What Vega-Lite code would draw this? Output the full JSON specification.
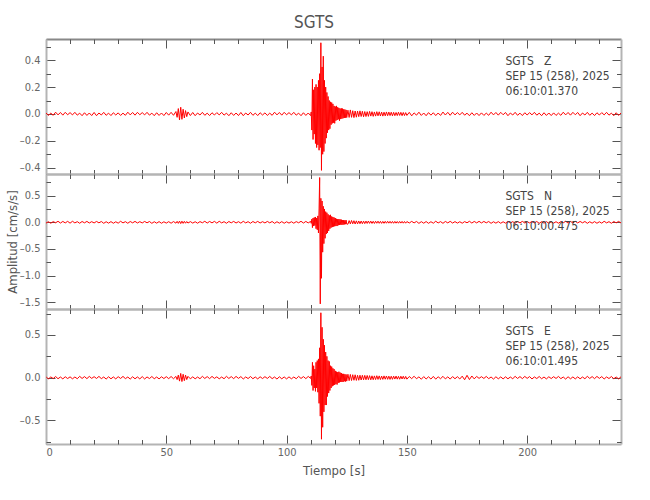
{
"$schema": "https://vega.github.io/schema/vega-lite/v6.json",
"background": "white",
"padding": {"left": 6, "top": 13, "right": 5, "bottom": 5},
"title": {"text": "SGTS", "fontSize": 17, "font": "Liberation Sans Narrow, DejaVu Sans Condensed, Liberation Sans", "fontWeight": "normal", "color": "#555555", "anchor": "middle", "offset": 7},
"datasets": {
"w": [
{"t":0,"z":0.008,"n":-0.015,"e":0.013},{"t":1,"z":-0.011,"n":0.011,"e":-0.015},{"t":2,"z":0.006,"n":-0.017,"e":0.009},{"t":3,"z":-0.010,"n":0.013,"e":-0.010},{"t":4,"z":0.013,"n":-0.009,"e":0.014},{"t":5,"z":-0.007,"n":0.019,"e":-0.012},{"t":6,"z":0.011,"n":-0.014,"e":0.008},{"t":7,"z":-0.009,"n":0.016,"e":-0.014},{"t":8,"z":0.012,"n":-0.011,"e":0.011},{"t":9,"z":-0.006,"n":0.018,"e":-0.010},
{"t":10,"z":0.010,"n":-0.016,"e":0.010},{"t":11,"z":-0.007,"n":0.019,"e":-0.013},{"t":12,"z":0.012,"n":-0.011,"e":0.008},{"t":13,"z":-0.009,"n":0.012,"e":-0.012},{"t":14,"z":0.006,"n":-0.018,"e":0.016},{"t":15,"z":-0.013,"n":0.015,"e":-0.009},{"t":16,"z":0.009,"n":-0.010,"e":0.013},{"t":17,"z":-0.011,"n":0.017,"e":-0.011},{"t":18,"z":0.007,"n":-0.013,"e":0.015},{"t":19,"z":-0.012,"n":0.012,"e":-0.008},
{"t":20,"z":0.011,"n":-0.012,"e":0.012},{"t":21,"z":-0.013,"n":0.016,"e":-0.009},{"t":22,"z":0.007,"n":-0.010,"e":0.015},{"t":23,"z":-0.008,"n":0.015,"e":-0.011},{"t":24,"z":0.012,"n":-0.019,"e":0.008},{"t":25,"z":-0.010,"n":0.011,"e":-0.016},{"t":26,"z":0.006,"n":-0.016,"e":0.011},{"t":27,"z":-0.012,"n":0.013,"e":-0.013},{"t":28,"z":0.009,"n":-0.018,"e":0.009},{"t":29,"z":-0.008,"n":0.010,"e":-0.014},
{"t":30,"z":0.008,"n":-0.016,"e":0.012},{"t":31,"z":-0.011,"n":0.019,"e":-0.009},{"t":32,"z":0.006,"n":-0.011,"e":0.015},{"t":33,"z":-0.010,"n":0.012,"e":-0.011},{"t":34,"z":0.013,"n":-0.018,"e":0.008},{"t":35,"z":-0.007,"n":0.015,"e":-0.016},{"t":36,"z":0.011,"n":-0.010,"e":0.011},{"t":37,"z":-0.009,"n":0.017,"e":-0.013},{"t":38,"z":0.012,"n":-0.013,"e":0.009},{"t":39,"z":-0.006,"n":0.012,"e":-0.014},
{"t":40,"z":0.010,"n":-0.012,"e":0.013},{"t":41,"z":-0.007,"n":0.016,"e":-0.015},{"t":42,"z":0.012,"n":-0.010,"e":0.009},{"t":43,"z":-0.009,"n":0.015,"e":-0.010},{"t":44,"z":0.006,"n":-0.019,"e":0.014},{"t":45,"z":-0.013,"n":0.011,"e":-0.012},{"t":46,"z":0.009,"n":-0.016,"e":0.008},{"t":47,"z":-0.011,"n":0.013,"e":-0.014},{"t":48,"z":0.007,"n":-0.018,"e":0.011},{"t":49,"z":-0.012,"n":0.010,"e":-0.010},
{"t":50,"z":0.011,"n":-0.015,"e":0.012},{"t":51,"z":-0.009,"n":0.012,"e":-0.011},{"t":52,"z":0.012,"n":-0.017,"e":0.014},{"t":53,"z":-0.010,"n":0.014,"e":-0.012},
{"t":54,"z":0.018,"n":-0.016,"e":0.015},{"t":54.5,"z":-0.025,"n":0.018,"e":-0.022},{"t":55,"z":0.040,"n":-0.020,"e":0.030},{"t":55.5,"z":-0.045,"n":0.022,"e":-0.040},{"t":56,"z":0.050,"n":-0.024,"e":0.050},{"t":56.5,"z":-0.040,"n":0.021,"e":-0.045},{"t":57,"z":0.035,"n":-0.020,"e":0.040},{"t":57.5,"z":-0.030,"n":0.018,"e":-0.035},{"t":58,"z":0.025,"n":-0.017,"e":0.030},{"t":58.5,"z":-0.020,"n":0.015,"e":-0.022},{"t":59,"z":0.015,"n":-0.014,"e":0.016},
{"t":60,"z":-0.012,"n":0.013,"e":-0.013},
{"t":61,"z":0.011,"n":-0.015,"e":0.010},{"t":62,"z":-0.013,"n":0.011,"e":-0.013},{"t":63,"z":0.007,"n":-0.017,"e":0.008},{"t":64,"z":-0.008,"n":0.013,"e":-0.012},{"t":65,"z":0.012,"n":-0.009,"e":0.016},{"t":66,"z":-0.010,"n":0.019,"e":-0.009},{"t":67,"z":0.006,"n":-0.014,"e":0.013},{"t":68,"z":-0.012,"n":0.016,"e":-0.011},{"t":69,"z":0.009,"n":-0.011,"e":0.015},{"t":70,"z":-0.008,"n":0.018,"e":-0.008},
{"t":71,"z":0.010,"n":-0.016,"e":0.010},{"t":72,"z":-0.007,"n":0.019,"e":-0.013},{"t":73,"z":0.012,"n":-0.011,"e":0.008},{"t":74,"z":-0.009,"n":0.012,"e":-0.012},{"t":75,"z":0.006,"n":-0.018,"e":0.016},{"t":76,"z":-0.013,"n":0.015,"e":-0.009},{"t":77,"z":0.009,"n":-0.010,"e":0.013},{"t":78,"z":-0.011,"n":0.017,"e":-0.011},{"t":79,"z":0.007,"n":-0.013,"e":0.015},{"t":80,"z":-0.012,"n":0.012,"e":-0.008},
{"t":81,"z":0.011,"n":-0.016,"e":0.013},{"t":82,"z":-0.013,"n":0.019,"e":-0.015},{"t":83,"z":0.007,"n":-0.011,"e":0.009},{"t":84,"z":-0.008,"n":0.012,"e":-0.010},{"t":85,"z":0.012,"n":-0.018,"e":0.014},{"t":86,"z":-0.010,"n":0.015,"e":-0.012},{"t":87,"z":0.006,"n":-0.010,"e":0.008},{"t":88,"z":-0.012,"n":0.017,"e":-0.014},{"t":89,"z":0.009,"n":-0.013,"e":0.011},{"t":90,"z":-0.008,"n":0.012,"e":-0.010},
{"t":91,"z":0.008,"n":-0.012,"e":0.012},{"t":92,"z":-0.011,"n":0.016,"e":-0.009},{"t":93,"z":0.006,"n":-0.010,"e":0.015},{"t":94,"z":-0.010,"n":0.015,"e":-0.011},{"t":95,"z":0.013,"n":-0.019,"e":0.008},{"t":96,"z":-0.007,"n":0.011,"e":-0.016},{"t":97,"z":0.011,"n":-0.016,"e":0.011},{"t":98,"z":-0.009,"n":0.013,"e":-0.013},{"t":99,"z":0.012,"n":-0.018,"e":0.009},{"t":100,"z":-0.006,"n":0.010,"e":-0.014},
{"t":101,"z":0.010,"n":-0.015,"e":0.010},{"t":102,"z":-0.007,"n":0.011,"e":-0.013},{"t":103,"z":0.012,"n":-0.017,"e":0.008},{"t":104,"z":-0.009,"n":0.013,"e":-0.012},{"t":105,"z":0.006,"n":-0.009,"e":0.016},{"t":106,"z":-0.013,"n":0.019,"e":-0.009},{"t":107,"z":0.009,"n":-0.014,"e":0.013},{"t":108,"z":-0.011,"n":0.016,"e":-0.011},{"t":109,"z":0.007,"n":-0.011,"e":0.015},{"t":110,"z":-0.012,"n":0.018,"e":-0.008},
{"t":110.25,"z":0.015,"n":-0.02,"e":0.02},{"t":110.5,"z":-0.12,"n":0.06,"e":-0.09},{"t":110.75,"z":0.26,"n":-0.1,"e":0.18},{"t":111,"z":-0.19,"n":0.08,"e":-0.15},{"t":111.25,"z":0.18,"n":-0.07,"e":0.14},{"t":111.5,"z":-0.15,"n":0.09,"e":-0.12},{"t":111.75,"z":0.2,"n":-0.06,"e":0.1},{"t":112,"z":-0.22,"n":0.1,"e":-0.16},{"t":112.25,"z":0.22,"n":-0.12,"e":0.18},{"t":112.5,"z":-0.25,"n":0.08,"e":-0.12},{"t":112.75,"z":0.2,"n":-0.14,"e":0.2},{"t":113,"z":-0.23,"n":0.12,"e":-0.17},{"t":113.25,"z":0.25,"n":-0.2,"e":0.22},{"t":113.5,"z":-0.27,"n":0.25,"e":-0.3},
{"t":113.75,"z":0.3,"n":0.84,"e":0.35},{"t":114,"z":-0.25,"n":-1.53,"e":-0.45},{"t":114.25,"z":0.53,"n":0.45,"e":0.76},{"t":114.5,"z":-0.42,"n":-1.05,"e":-0.72},{"t":114.75,"z":0.35,"n":0.4,"e":0.59},{"t":115,"z":-0.3,"n":-0.56,"e":-0.58},{"t":115.25,"z":0.43,"n":0.3,"e":0.45},{"t":115.5,"z":-0.28,"n":-0.4,"e":-0.4},{"t":115.75,"z":0.25,"n":0.25,"e":0.38},{"t":116,"z":-0.22,"n":-0.3,"e":-0.32},
{"t":116.25,"z":0.2,"n":0.2,"e":0.3},{"t":116.5,"z":-0.18,"n":-0.22,"e":-0.32},{"t":116.75,"z":0.16,"n":0.18,"e":0.25},{"t":117,"z":-0.14,"n":-0.2,"e":-0.22},{"t":117.25,"z":0.13,"n":0.15,"e":0.2},{"t":117.5,"z":-0.12,"n":-0.16,"e":-0.18},{"t":117.75,"z":0.1,"n":0.13,"e":0.19},{"t":118,"z":-0.11,"n":-0.12,"e":-0.15},{"t":118.25,"z":0.09,"n":0.14,"e":0.14},{"t":118.5,"z":-0.08,"n":-0.1,"e":-0.12},{"t":118.75,"z":0.085,"n":0.11,"e":0.13},{"t":119,"z":-0.07,"n":-0.09,"e":-0.1},{"t":119.25,"z":0.075,"n":0.1,"e":0.11},{"t":119.5,"z":-0.065,"n":-0.08,"e":-0.09},{"t":119.75,"z":0.06,"n":0.09,"e":0.1},{"t":120,"z":-0.07,"n":-0.075,"e":-0.085},
{"t":120.25,"z":0.055,"n":0.08,"e":0.08},{"t":120.5,"z":-0.05,"n":-0.07,"e":-0.075},{"t":120.75,"z":0.06,"n":0.065,"e":0.07},{"t":121,"z":-0.045,"n":-0.07,"e":-0.08},{"t":121.25,"z":0.05,"n":0.06,"e":0.065},{"t":121.5,"z":-0.04,"n":-0.055,"e":-0.06},{"t":121.75,"z":0.045,"n":0.06,"e":0.07},{"t":122,"z":-0.05,"n":-0.05,"e":-0.055},{"t":122.25,"z":0.04,"n":0.055,"e":0.06},{"t":122.5,"z":-0.038,"n":-0.045,"e":-0.05},{"t":122.75,"z":0.042,"n":0.05,"e":0.055},{"t":123,"z":-0.035,"n":-0.048,"e":-0.05},{"t":123.25,"z":0.04,"n":0.04,"e":0.045},{"t":123.5,"z":-0.032,"n":-0.045,"e":-0.05},{"t":123.75,"z":0.035,"n":0.042,"e":0.045},{"t":124,"z":-0.03,"n":-0.04,"e":-0.042},{"t":124.25,"z":0.033,"n":0.038,"e":0.04},{"t":124.5,"z":-0.028,"n":-0.035,"e":-0.045},{"t":124.75,"z":0.03,"n":0.04,"e":0.038},{"t":125,"z":-0.027,"n":-0.033,"e":-0.04},
{"t":125.5,"z":0.028,"n":-0.035,"e":0.04},{"t":126,"z":-0.026,"n":0.032,"e":-0.035},{"t":126.5,"z":0.03,"n":-0.03,"e":0.038},{"t":127,"z":-0.025,"n":0.034,"e":-0.033},{"t":127.5,"z":0.024,"n":-0.028,"e":0.035},{"t":128,"z":-0.027,"n":0.03,"e":-0.03},{"t":128.5,"z":0.022,"n":-0.032,"e":0.034},{"t":129,"z":-0.024,"n":0.027,"e":-0.032},{"t":129.5,"z":0.021,"n":-0.029,"e":0.028},{"t":130,"z":-0.02,"n":0.025,"e":-0.03},
{"t":130.5,"z":0.023,"n":-0.027,"e":0.029},{"t":131,"z":-0.019,"n":0.024,"e":-0.027},{"t":131.5,"z":0.02,"n":-0.026,"e":0.028},{"t":132,"z":-0.021,"n":0.022,"e":-0.025},{"t":132.5,"z":0.018,"n":-0.025,"e":0.027},{"t":133,"z":-0.019,"n":0.023,"e":-0.024},{"t":133.5,"z":0.017,"n":-0.021,"e":0.026},{"t":134,"z":-0.018,"n":0.024,"e":-0.023},{"t":134.5,"z":0.019,"n":-0.02,"e":0.024},{"t":135,"z":-0.016,"n":0.022,"e":-0.025},
{"t":135.5,"z":0.017,"n":-0.021,"e":0.022},{"t":136,"z":-0.018,"n":0.019,"e":-0.024},{"t":136.5,"z":0.015,"n":-0.022,"e":0.021},{"t":137,"z":-0.016,"n":0.02,"e":-0.022},{"t":137.5,"z":0.017,"n":-0.018,"e":0.023},{"t":138,"z":-0.014,"n":0.021,"e":-0.02},{"t":138.5,"z":0.016,"n":-0.019,"e":0.021},{"t":139,"z":-0.015,"n":0.018,"e":-0.022},{"t":139.5,"z":0.014,"n":-0.02,"e":0.019},{"t":140,"z":-0.016,"n":0.017,"e":-0.02},
{"t":140.5,"z":0.013,"n":-0.019,"e":0.021},{"t":141,"z":-0.014,"n":0.018,"e":-0.018},{"t":141.5,"z":0.015,"n":-0.017,"e":0.02},{"t":142,"z":-0.013,"n":0.019,"e":-0.019},{"t":142.5,"z":0.014,"n":-0.016,"e":0.018},{"t":143,"z":-0.012,"n":0.018,"e":-0.02},{"t":143.5,"z":0.013,"n":-0.017,"e":0.017},{"t":144,"z":-0.014,"n":0.016,"e":-0.019},{"t":144.5,"z":0.012,"n":-0.018,"e":0.018},{"t":145,"z":-0.013,"n":0.017,"e":-0.016},
{"t":145.5,"z":0.011,"n":-0.016,"e":0.019},{"t":146,"z":-0.012,"n":0.015,"e":-0.017},{"t":146.5,"z":0.013,"n":-0.017,"e":0.016},{"t":147,"z":-0.011,"n":0.016,"e":-0.018},{"t":147.5,"z":0.012,"n":-0.015,"e":0.017},{"t":148,"z":-0.013,"n":0.017,"e":-0.015},{"t":148.5,"z":0.011,"n":-0.016,"e":0.017},{"t":149,"z":-0.012,"n":0.015,"e":-0.016},{"t":149.5,"z":0.01,"n":-0.016,"e":0.015},{"t":150,"z":-0.011,"n":0.014,"e":-0.017},
{"t":151,"z":0.012,"n":-0.013,"e":0.014},{"t":152,"z":-0.014,"n":0.017,"e":-0.011},{"t":153,"z":0.008,"n":-0.011,"e":0.017},{"t":154,"z":-0.009,"n":0.016,"e":-0.012},{"t":155,"z":0.013,"n":-0.02,"e":0.01},{"t":156,"z":-0.011,"n":0.012,"e":-0.018},{"t":157,"z":0.007,"n":-0.017,"e":0.013},{"t":158,"z":-0.013,"n":0.014,"e":-0.015},{"t":159,"z":0.01,"n":-0.019,"e":0.011},{"t":160,"z":-0.009,"n":0.011,"e":-0.016},
{"t":161,"z":0.009,"n":-0.017,"e":0.015},{"t":162,"z":-0.012,"n":0.02,"e":-0.017},{"t":163,"z":0.007,"n":-0.012,"e":0.011},{"t":164,"z":-0.011,"n":0.013,"e":-0.012},{"t":165,"z":0.014,"n":-0.019,"e":0.016},{"t":166,"z":-0.008,"n":0.016,"e":-0.014},{"t":167,"z":0.012,"n":-0.011,"e":0.01},{"t":168,"z":-0.01,"n":0.018,"e":-0.016},{"t":169,"z":0.013,"n":-0.014,"e":0.013},{"t":170,"z":-0.007,"n":0.013,"e":-0.012},
{"t":171,"z":0.01,"n":-0.015,"e":0.012},{"t":172,"z":-0.007,"n":0.011,"e":-0.015},{"t":173,"z":0.012,"n":-0.017,"e":0.018},{"t":174,"z":-0.009,"n":0.013,"e":-0.024},{"t":175,"z":0.006,"n":-0.009,"e":0.028},{"t":176,"z":-0.013,"n":0.019,"e":-0.022},{"t":177,"z":0.009,"n":-0.014,"e":0.02},{"t":178,"z":-0.011,"n":0.016,"e":-0.014},{"t":179,"z":0.007,"n":-0.011,"e":0.015},{"t":180,"z":-0.012,"n":0.018,"e":-0.008},
{"t":181,"z":0.008,"n":-0.012,"e":0.012},{"t":182,"z":-0.011,"n":0.016,"e":-0.009},{"t":183,"z":0.006,"n":-0.01,"e":0.015},{"t":184,"z":-0.01,"n":0.015,"e":-0.011},{"t":185,"z":0.013,"n":-0.019,"e":0.008},{"t":186,"z":-0.007,"n":0.011,"e":-0.016},{"t":187,"z":0.011,"n":-0.016,"e":0.011},{"t":188,"z":-0.009,"n":0.013,"e":-0.013},{"t":189,"z":0.012,"n":-0.018,"e":0.009},{"t":190,"z":-0.006,"n":0.01,"e":-0.014},
{"t":191,"z":0.011,"n":-0.016,"e":0.01},{"t":192,"z":-0.013,"n":0.019,"e":-0.013},{"t":193,"z":0.007,"n":-0.011,"e":0.008},{"t":194,"z":-0.008,"n":0.012,"e":-0.012},{"t":195,"z":0.012,"n":-0.018,"e":0.016},{"t":196,"z":-0.01,"n":0.015,"e":-0.009},{"t":197,"z":0.006,"n":-0.01,"e":0.013},{"t":198,"z":-0.012,"n":0.017,"e":-0.011},{"t":199,"z":0.009,"n":-0.013,"e":0.015},{"t":200,"z":-0.008,"n":0.012,"e":-0.008},
{"t":201,"z":0.01,"n":-0.012,"e":0.013},{"t":202,"z":-0.007,"n":0.016,"e":-0.015},{"t":203,"z":0.012,"n":-0.01,"e":0.009},{"t":204,"z":-0.009,"n":0.015,"e":-0.01},{"t":205,"z":0.006,"n":-0.019,"e":0.014},{"t":206,"z":-0.013,"n":0.011,"e":-0.012},{"t":207,"z":0.009,"n":-0.016,"e":0.008},{"t":208,"z":-0.011,"n":0.013,"e":-0.014},{"t":209,"z":0.007,"n":-0.018,"e":0.011},{"t":210,"z":-0.012,"n":0.01,"e":-0.01},
{"t":211,"z":0.008,"n":-0.015,"e":0.012},{"t":212,"z":-0.011,"n":0.011,"e":-0.009},{"t":213,"z":0.006,"n":-0.017,"e":0.015},{"t":214,"z":-0.01,"n":0.013,"e":-0.011},{"t":215,"z":0.013,"n":-0.009,"e":0.008},{"t":216,"z":-0.007,"n":0.019,"e":-0.016},{"t":217,"z":0.011,"n":-0.014,"e":0.011},{"t":218,"z":-0.009,"n":0.016,"e":-0.013},{"t":219,"z":0.012,"n":-0.011,"e":0.009},{"t":220,"z":-0.006,"n":0.018,"e":-0.014},
{"t":221,"z":0.011,"n":-0.012,"e":0.01},{"t":222,"z":-0.013,"n":0.016,"e":-0.013},{"t":223,"z":0.007,"n":-0.01,"e":0.008},{"t":224,"z":-0.008,"n":0.015,"e":-0.012},{"t":225,"z":0.012,"n":-0.019,"e":0.016},{"t":226,"z":-0.01,"n":0.011,"e":-0.009},{"t":227,"z":0.006,"n":-0.016,"e":0.013},{"t":228,"z":-0.012,"n":0.013,"e":-0.011},{"t":229,"z":0.009,"n":-0.018,"e":0.015},{"t":230,"z":-0.008,"n":0.01,"e":-0.008},
{"t":231,"z":0.01,"n":-0.016,"e":0.013},{"t":232,"z":-0.007,"n":0.019,"e":-0.015},{"t":233,"z":0.012,"n":-0.011,"e":0.009},{"t":234,"z":-0.009,"n":0.012,"e":-0.01},{"t":235,"z":0.006,"n":-0.018,"e":0.014},{"t":236,"z":-0.013,"n":0.015,"e":-0.012},{"t":237,"z":0.009,"n":-0.01,"e":0.008},{"t":238,"z":-0.011,"n":0.017,"e":-0.014},{"t":239,"z":0.007,"n":-0.013,"e":0.011}
],
"lab": [
{"ch":"Z","txt":"SGTS\u00a0\u00a0\u00a0Z\nSEP 15 (258), 2025\n06:10:01.370"},
{"ch":"N","txt":"SGTS\u00a0\u00a0\u00a0N\nSEP 15 (258), 2025\n06:10:00.475"},
{"ch":"E","txt":"SGTS\u00a0\u00a0\u00a0E\nSEP 15 (258), 2025\n06:10:01.495"}
]
},
"spacing": 0,
"bounds": "flush",
"vconcat": [
{
"width": 575, "height": 135,
"layer": [
{"data": {"name": "w"}, "mark": {"type": "line", "color": "#ff0000", "strokeWidth": 1, "clip": true},
 "encoding": {
  "x": {"field": "t", "type": "quantitative", "scale": {"domain": [0, 239], "nice": false, "zero": false}, "axis": {"orient": "bottom", "values": [0, 50, 100, 150, 200], "tickSize": -9, "labels": false, "title": null}},
  "y": {"field": "z", "type": "quantitative", "scale": {"domain": [-0.447, 0.558], "nice": false, "zero": false}, "axis": {"orient": "left", "values": [-0.4, -0.2, 0, 0.2, 0.4], "tickSize": -9, "format": ".1f", "title": null}}}},
{"data": {"name": "w"}, "mark": {"type": "line", "opacity": 0},
 "encoding": {
  "x": {"field": "t", "type": "quantitative", "scale": {"domain": [0, 239], "nice": false, "zero": false}, "axis": {"orient": "bottom", "values": [10, 20, 30, 40, 60, 70, 80, 90, 110, 120, 130, 140, 160, 170, 180, 190, 210, 220, 230], "tickSize": -4.5, "labels": false, "domain": false, "title": null}},
  "y": {"field": "z", "type": "quantitative", "scale": {"domain": [-0.447, 0.558], "nice": false, "zero": false}, "axis": {"orient": "left", "values": [-0.3, -0.1, 0.1, 0.3, 0.5], "tickSize": -4.5, "labels": false, "domain": false, "title": null}}}},
{"data": {"name": "w"}, "mark": {"type": "line", "opacity": 0},
 "encoding": {
  "x": {"field": "t", "type": "quantitative", "scale": {"domain": [0, 239], "nice": false, "zero": false}, "axis": {"orient": "top", "values": [0, 50, 100, 150, 200], "tickSize": -9, "labels": false, "title": null, "domainColor": "#888888"}},
  "y": {"field": "z", "type": "quantitative", "scale": {"domain": [-0.447, 0.558], "nice": false, "zero": false}, "axis": {"orient": "right", "values": [-0.4, -0.2, 0, 0.2, 0.4], "tickSize": -9, "labels": false, "title": null}}}},
{"data": {"name": "w"}, "mark": {"type": "line", "opacity": 0},
 "encoding": {
  "x": {"field": "t", "type": "quantitative", "scale": {"domain": [0, 239], "nice": false, "zero": false}, "axis": {"orient": "top", "values": [10, 20, 30, 40, 60, 70, 80, 90, 110, 120, 130, 140, 160, 170, 180, 190, 210, 220, 230], "tickSize": -4.5, "labels": false, "domain": false, "title": null}},
  "y": {"field": "z", "type": "quantitative", "scale": {"domain": [-0.447, 0.558], "nice": false, "zero": false}, "axis": {"orient": "right", "values": [-0.3, -0.1, 0.1, 0.3, 0.5], "tickSize": -4.5, "labels": false, "domain": false, "title": null}}}},
{"data": {"name": "lab"}, "transform": [{"filter": "datum.ch == 'Z'"}],
 "mark": {"type": "text", "align": "left", "baseline": "top", "lineBreak": "\n", "lineHeight": 15, "font": "Liberation Sans Narrow, DejaVu Sans Condensed, Liberation Sans", "fontSize": 12, "color": "#444444"},
 "encoding": {
  "text": {"field": "txt"},
  "x": {"datum": 191, "type": "quantitative", "scale": {"domain": [0, 239], "nice": false, "zero": false}, "axis": null},
  "y": {"datum": 0.431, "type": "quantitative", "scale": {"domain": [-0.447, 0.558], "nice": false, "zero": false}, "axis": null}}}
],
"resolve": {"axis": {"x": "independent", "y": "independent"}}
},
{
"width": 575, "height": 135,
"layer": [
{"data": {"name": "w"}, "mark": {"type": "line", "color": "#ff0000", "strokeWidth": 1, "clip": true},
 "encoding": {
  "x": {"field": "t", "type": "quantitative", "scale": {"domain": [0, 239], "nice": false, "zero": false}, "axis": {"orient": "bottom", "values": [0, 50, 100, 150, 200], "tickSize": -9, "labels": false, "title": null}},
  "y": {"field": "n", "type": "quantitative", "scale": {"domain": [-1.626, 0.906], "nice": false, "zero": false}, "axis": {"orient": "left", "values": [-1.5, -1, -0.5, 0, 0.5], "tickSize": -9, "format": ".1f", "title": "Amplitud [cm/s/s]", "titleX": -26.5}}}},
{"data": {"name": "w"}, "mark": {"type": "line", "opacity": 0},
 "encoding": {
  "x": {"field": "t", "type": "quantitative", "scale": {"domain": [0, 239], "nice": false, "zero": false}, "axis": {"orient": "bottom", "values": [10, 20, 30, 40, 60, 70, 80, 90, 110, 120, 130, 140, 160, 170, 180, 190, 210, 220, 230], "tickSize": -4.5, "labels": false, "domain": false, "title": null}},
  "y": {"field": "n", "type": "quantitative", "scale": {"domain": [-1.626, 0.906], "nice": false, "zero": false}, "axis": {"orient": "left", "values": [-1.25, -0.75, -0.25, 0.25, 0.75], "tickSize": -4.5, "labels": false, "domain": false, "title": null}}}},
{"data": {"name": "w"}, "mark": {"type": "line", "opacity": 0},
 "encoding": {
  "x": {"field": "t", "type": "quantitative", "scale": {"domain": [0, 239], "nice": false, "zero": false}, "axis": {"orient": "top", "values": [0, 50, 100, 150, 200], "tickSize": -9, "labels": false, "title": null}},
  "y": {"field": "n", "type": "quantitative", "scale": {"domain": [-1.626, 0.906], "nice": false, "zero": false}, "axis": {"orient": "right", "values": [-1.5, -1, -0.5, 0, 0.5], "tickSize": -9, "labels": false, "title": null}}}},
{"data": {"name": "w"}, "mark": {"type": "line", "opacity": 0},
 "encoding": {
  "x": {"field": "t", "type": "quantitative", "scale": {"domain": [0, 239], "nice": false, "zero": false}, "axis": {"orient": "top", "values": [10, 20, 30, 40, 60, 70, 80, 90, 110, 120, 130, 140, 160, 170, 180, 190, 210, 220, 230], "tickSize": -4.5, "labels": false, "domain": false, "title": null}},
  "y": {"field": "n", "type": "quantitative", "scale": {"domain": [-1.626, 0.906], "nice": false, "zero": false}, "axis": {"orient": "right", "values": [-1.25, -0.75, -0.25, 0.25, 0.75], "tickSize": -4.5, "labels": false, "domain": false, "title": null}}}},
{"data": {"name": "lab"}, "transform": [{"filter": "datum.ch == 'N'"}],
 "mark": {"type": "text", "align": "left", "baseline": "top", "lineBreak": "\n", "lineHeight": 15, "font": "Liberation Sans Narrow, DejaVu Sans Condensed, Liberation Sans", "fontSize": 12, "color": "#444444"},
 "encoding": {
  "text": {"field": "txt"},
  "x": {"datum": 191, "type": "quantitative", "scale": {"domain": [0, 239], "nice": false, "zero": false}, "axis": null},
  "y": {"datum": 0.587, "type": "quantitative", "scale": {"domain": [-1.626, 0.906], "nice": false, "zero": false}, "axis": null}}}
],
"resolve": {"axis": {"x": "independent", "y": "independent"}}
},
{
"width": 575, "height": 135,
"layer": [
{"data": {"name": "w"}, "mark": {"type": "line", "color": "#ff0000", "strokeWidth": 1, "clip": true},
 "encoding": {
  "x": {"field": "t", "type": "quantitative", "scale": {"domain": [0, 239], "nice": false, "zero": false}, "axis": {"orient": "bottom", "values": [0, 50, 100, 150, 200], "tickSize": -9, "labelPadding": 11.5, "title": "Tiempo [s]", "titlePadding": 7}},
  "y": {"field": "e", "type": "quantitative", "scale": {"domain": [-0.776, 0.804], "nice": false, "zero": false}, "axis": {"orient": "left", "values": [-0.5, 0, 0.5], "tickSize": -9, "format": ".1f", "title": null}}}},
{"data": {"name": "w"}, "mark": {"type": "line", "opacity": 0},
 "encoding": {
  "x": {"field": "t", "type": "quantitative", "scale": {"domain": [0, 239], "nice": false, "zero": false}, "axis": {"orient": "bottom", "values": [10, 20, 30, 40, 60, 70, 80, 90, 110, 120, 130, 140, 160, 170, 180, 190, 210, 220, 230], "tickSize": -4.5, "labels": false, "domain": false, "title": null}},
  "y": {"field": "e", "type": "quantitative", "scale": {"domain": [-0.776, 0.804], "nice": false, "zero": false}, "axis": {"orient": "left", "values": [-0.75, -0.25, 0.25, 0.75], "tickSize": -4.5, "labels": false, "domain": false, "title": null}}}},
{"data": {"name": "w"}, "mark": {"type": "line", "opacity": 0},
 "encoding": {
  "x": {"field": "t", "type": "quantitative", "scale": {"domain": [0, 239], "nice": false, "zero": false}, "axis": {"orient": "top", "values": [0, 50, 100, 150, 200], "tickSize": -9, "labels": false, "title": null}},
  "y": {"field": "e", "type": "quantitative", "scale": {"domain": [-0.776, 0.804], "nice": false, "zero": false}, "axis": {"orient": "right", "values": [-0.5, 0, 0.5], "tickSize": -9, "labels": false, "title": null}}}},
{"data": {"name": "w"}, "mark": {"type": "line", "opacity": 0},
 "encoding": {
  "x": {"field": "t", "type": "quantitative", "scale": {"domain": [0, 239], "nice": false, "zero": false}, "axis": {"orient": "top", "values": [10, 20, 30, 40, 60, 70, 80, 90, 110, 120, 130, 140, 160, 170, 180, 190, 210, 220, 230], "tickSize": -4.5, "labels": false, "domain": false, "title": null}},
  "y": {"field": "e", "type": "quantitative", "scale": {"domain": [-0.776, 0.804], "nice": false, "zero": false}, "axis": {"orient": "right", "values": [-0.75, -0.25, 0.25, 0.75], "tickSize": -4.5, "labels": false, "domain": false, "title": null}}}},
{"data": {"name": "lab"}, "transform": [{"filter": "datum.ch == 'E'"}],
 "mark": {"type": "text", "align": "left", "baseline": "top", "lineBreak": "\n", "lineHeight": 15, "font": "Liberation Sans Narrow, DejaVu Sans Condensed, Liberation Sans", "fontSize": 12, "color": "#444444"},
 "encoding": {
  "text": {"field": "txt"},
  "x": {"datum": 191, "type": "quantitative", "scale": {"domain": [0, 239], "nice": false, "zero": false}, "axis": null},
  "y": {"datum": 0.605, "type": "quantitative", "scale": {"domain": [-0.776, 0.804], "nice": false, "zero": false}, "axis": null}}}
],
"resolve": {"axis": {"x": "independent", "y": "independent"}}
}
],
"config": {
 "view": {"stroke": null},
 "locale": {"number": {"decimal": ".", "thousands": ",", "grouping": [3], "currency": ["$", ""], "minus": "\u2013"}},
 "axis": {"grid": false, "domainColor": "#b4b4b4", "domainWidth": 2, "tickColor": "#555555", "tickWidth": 1, "labelColor": "#666666", "labelFont": "Liberation Sans Narrow, DejaVu Sans Condensed, Liberation Sans", "labelFontSize": 11, "labelPadding": 15, "titleFont": "Liberation Sans Narrow, DejaVu Sans Condensed, Liberation Sans", "titleFontSize": 13, "titleFontWeight": "normal", "titleColor": "#555555"}
}
}
